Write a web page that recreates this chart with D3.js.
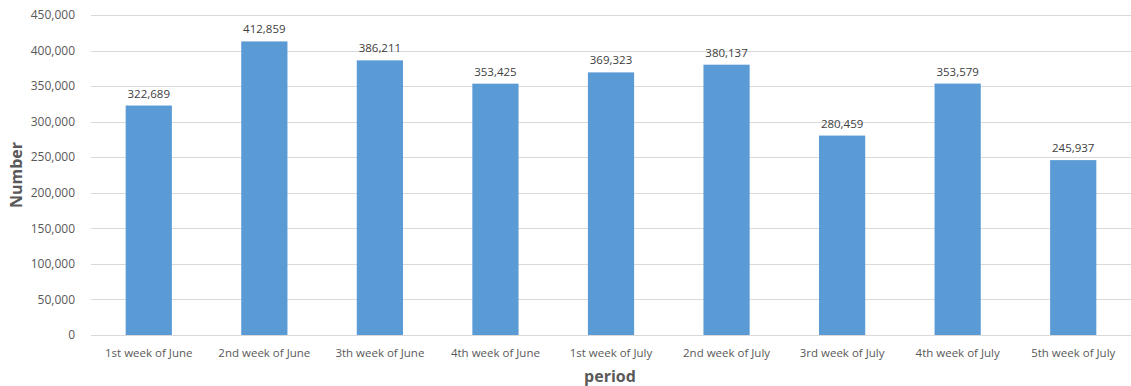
<!DOCTYPE html>
<meta charset="utf-8">
<style>
  body { margin: 0; background: #fff; }
  text { font-family: "Open Sans", sans-serif; fill: #595959; }
  .grid line { stroke: #d9d9d9; stroke-width: 1px; }
  .title { font-weight: bold; font-size: 16px; text-anchor: middle; }
</style>
<body>
<script src="https://d3js.org/d3.v7.min.js"></script>
<script>

var categories = ["1st week of June", "2nd week of June", "3th week of June", "4th week of June",
  "1st week of July", "2nd week of July", "3rd week of July", "4th week of July", "5th week of July"];
var values = [322689, 412859, 386211, 353425, 369323, 380137, 280459, 353579, 245937];
var yTicks = [0, 50000, 100000, 150000, 200000, 250000, 300000, 350000, 400000, 450000];

var width = 1131,
    height = 386,
    margin = {top: 15, right: 0, bottom: 51, left: 91};

var svg = d3.select("body").append("svg")
  .attr("width", width)
  .attr("height", height);

var x = d3.scaleBand()
  .domain(categories)
  .range([margin.left, width - margin.right])
  .paddingInner(0.6)
  .paddingOuter(0.3);

var y = d3.scaleLinear()
  .domain([0, 450000])
  .range([height - margin.bottom, margin.top]);

var fmt = d3.format(",");

// gridlines
svg.append("g")
  .attr("class", "grid")
  .selectAll("line")
  .data(yTicks)
  .enter()
  .append("line")
    .attr("x1", margin.left)
    .attr("x2", width - margin.right)
    .attr("y1", function(d) { return Math.round(y(d)) + 0.5; })
    .attr("y2", function(d) { return Math.round(y(d)) + 0.5; });

// y tick labels
svg.append("g")
  .selectAll("text")
  .data(yTicks)
  .enter()
  .append("text")
    .attr("x", 75)
    .attr("y", function(d) { return y(d); })
    .attr("dy", "0.35em")
    .style("text-anchor", "end")
    .style("font-size", "12px")
    .text(fmt);

// bars
svg.append("g")
  .selectAll("rect")
  .data(values)
  .enter()
  .append("rect")
    .attr("x", function(d, i) { return x(categories[i]); })
    .attr("width", x.bandwidth())
    .attr("y", function(d) { return y(d); })
    .attr("height", function(d) { return y(0) - y(d); })
    .style("fill", "#5b9bd5");

// value labels
svg.append("g")
  .selectAll("text")
  .data(values)
  .enter()
  .append("text")
    .attr("x", function(d, i) { return x(categories[i]) + x.bandwidth() / 2; })
    .attr("y", function(d) { return y(d) - 8; })
    .style("text-anchor", "middle")
    .style("font-size", "11.5px")
    .style("fill", "#404040")
    .text(fmt);

// category labels
svg.append("g")
  .selectAll("text")
  .data(categories)
  .enter()
  .append("text")
    .attr("x", function(d) { return x(d) + x.bandwidth() / 2; })
    .attr("y", 357)
    .style("text-anchor", "middle")
    .style("font-size", "11.5px")
    .text(function(d) { return d; });

svg.append("text")
  .attr("class", "title")
  .attr("x", 610)
  .attr("y", 382)
  .text("period");

svg.append("text")
  .attr("class", "title")
  .attr("transform", "translate(22," + y(225000) + ") rotate(-90)")
  .text("Number");

</script>
